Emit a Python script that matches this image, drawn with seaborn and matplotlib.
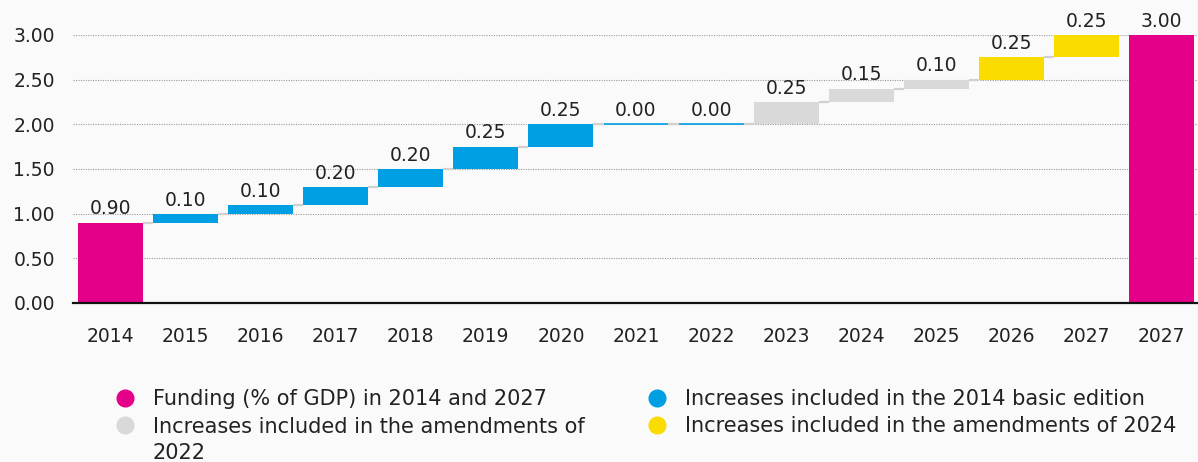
import numpy as np
import pandas as pd
import matplotlib
matplotlib.use("Agg")
import matplotlib.pyplot as plt
from matplotlib.lines import Line2D
import seaborn as sns

# Category labels (the last "2027" is the closing total)
years = ["2014", "2015", "2016", "2017", "2018", "2019", "2020", "2021",
         "2022", "2023", "2024", "2025", "2026", "2027", "2027"]
# Step values; first and last entries are totals
deltas = [0.90, 0.10, 0.10, 0.20, 0.20, 0.25, 0.25, 0.00,
          0.00, 0.25, 0.15, 0.10, 0.25, 0.25, 3.00]
groups = (["total"] + ["basic"] * 8 + ["amend2022"] * 3
          + ["amend2024"] * 2 + ["total"])
is_total = [True] + [False] * 13 + [True]

colors = {
    "total": "#E5008A",
    "basic": "#009FE3",
    "amend2022": "#D9D9D9",
    "amend2024": "#FADC00",
}
legend_labels = {
    "total": "Funding (% of GDP) in 2014 and 2027",
    "basic": "Increases included in the 2014 basic edition",
    "amend2022": "Increases included in the amendments of\n2022",
    "amend2024": "Increases included in the amendments of 2024",
}

# Waterfall bases from the running total
bases = []
running = 0.0
for d, tot in zip(deltas, is_total):
    if tot:
        bases.append(0.0)
        running = d
    else:
        bases.append(running)
        running += d
tops = [b + d for b, d in zip(bases, deltas)]

df = pd.DataFrame({
    "key": [f"{i:02d}" for i in range(len(years))],
    "year": years,
    "delta": deltas,
    "base": bases,
    "top": tops,
    "group": groups,
})

bg = "#FAFAFA"
text_color = "#222222"
sns.set_theme(style="white")
plt.rcParams["font.family"] = ["DejaVu Sans"]

fig = plt.figure(figsize=(11.98, 4.62), dpi=100, facecolor=bg)
ax = fig.add_axes([73 / 1198, 159 / 462, 1126 / 1198, 268 / 462])
ax.set_facecolor(bg)

bar_width = 0.865
sns.barplot(data=df, x="key", y="delta", order=list(df["key"]),
            bottom=df["base"].to_numpy(), width=bar_width,
            color=colors["basic"], errorbar=None, linewidth=0, ax=ax)

for patch, grp, d in zip(ax.patches, df["group"], df["delta"]):
    patch.set_facecolor(colors[grp])
    patch.set_alpha(1)
    if d == 0:
        # zero-size steps shown as a thin line
        patch.set_edgecolor(colors[grp])
        patch.set_linewidth(1.2)
    else:
        patch.set_edgecolor("none")

# Connectors between consecutive bars at the running level
xs = np.arange(len(df))
for i in range(len(df) - 1):
    ax.hlines(tops[i], xs[i] + bar_width / 2, xs[i + 1] - bar_width / 2,
              color="#D0D0D0", linewidth=1.6, zorder=1)

# Value labels
for x, top, d in zip(xs, df["top"], df["delta"]):
    ax.annotate(f"{d:.2f}", (x, top), xytext=(0, 3), textcoords="offset points",
                ha="center", va="bottom", fontsize=13.5, color=text_color,
                annotation_clip=False)

ax.set_xlim(-0.5, len(df) - 0.5)
ax.set_ylim(0, 3.0)
ax.set_yticks(np.arange(0, 3.01, 0.5))
ax.set_yticklabels([f"{v:.2f}" for v in np.arange(0, 3.01, 0.5)])
ax.set_xticks(xs)
ax.set_xticklabels(years)
ax.set_xlabel("")
ax.set_ylabel("")
ax.yaxis.grid(True, linestyle=(0, (1, 1.2)), color="#9A9A9A", linewidth=0.8)
ax.set_axisbelow(True)
ax.tick_params(axis="both", length=0, labelsize=13.5, colors=text_color)
ax.tick_params(axis="x", pad=17)
ax.tick_params(axis="y", pad=13)
for side in ("top", "right", "left"):
    ax.spines[side].set_visible(False)
ax.spines["bottom"].set_color("#111111")
ax.spines["bottom"].set_linewidth(1.6)
ax.spines["bottom"].set_zorder(5)

# Legend in two columns
legend_layout = [
    ("total", 125, 153, 398),
    ("basic", 657, 685, 398),
    ("amend2022", 125, 153, 425),
    ("amend2024", 657, 685, 425),
]
W, H = 1198, 462
line_step = 27
for grp, mx, tx, ry in legend_layout:
    fig.add_artist(Line2D([mx / W], [1 - ry / H], marker="o", markersize=12,
                          color=colors[grp], linestyle="none",
                          transform=fig.transFigure))
    n_lines = legend_labels[grp].count("\n") + 1
    # baseline of the last line, so the first line sits on the marker row
    base_y = ry + 7 + line_step * (n_lines - 1)
    fig.text(tx / W, 1 - base_y / H, legend_labels[grp], ha="left",
             va="baseline", fontsize=15, color=text_color, linespacing=1.4)

fig.savefig("out.png", dpi=100, facecolor=bg)
